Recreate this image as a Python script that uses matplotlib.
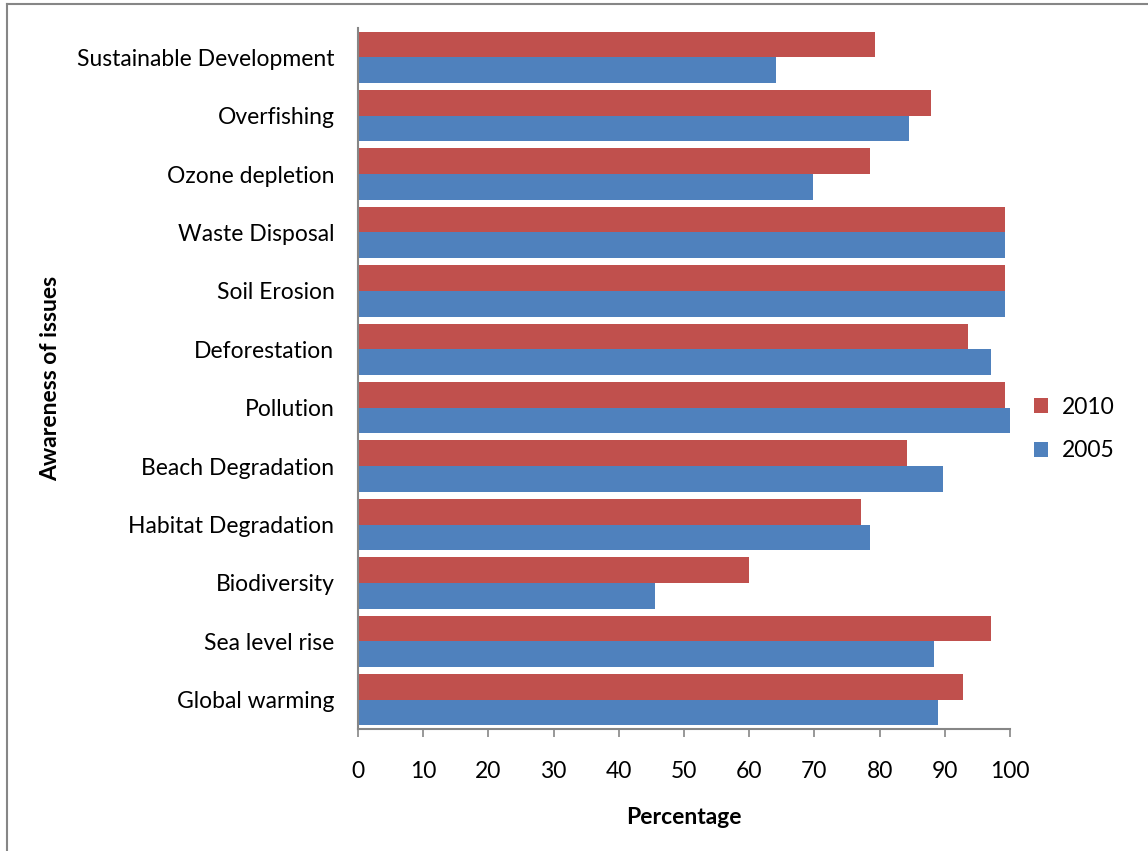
import numpy as np
import matplotlib
matplotlib.use('Agg')
import matplotlib.pyplot as plt
from matplotlib.lines import Line2D

plt.rcParams['font.family'] = ['Lato', 'DejaVu Sans']

# --- DATA ---
issues = ['Global warming', 'Sea level rise', 'Biodiversity', 'Habitat Degradation',
          'Beach Degradation', 'Pollution', 'Deforestation', 'Soil Erosion',
          'Waste Disposal', 'Ozone depletion', 'Overfishing', 'Sustainable Development']
pct_2010 = [92.8, 97.1, 60.0, 77.1, 84.2, 99.2, 93.6, 99.2, 99.2, 78.5, 87.9, 79.3]
pct_2005 = [89.0, 88.3, 45.6, 78.5, 89.7, 100.0, 97.1, 99.2, 99.2, 69.8, 84.5, 64.1]
x_ticks = [0, 10, 20, 30, 40, 50, 60, 70, 80, 90, 100]

red = '#C0504D'
blue = '#4F81BD'
axis_grey = '#868686'

fig = plt.figure(figsize=(11.48, 8.51), dpi=100)
ax = fig.add_axes([358 / 1148, 1 - 729 / 851, (1010 - 358) / 1148, (729 - 28) / 851])

y = np.arange(len(issues))
h = 0.44
ax.barh(y + h / 2, pct_2010, height=h, color=red, label='2010')
ax.barh(y - h / 2, pct_2005, height=h, color=blue, label='2005')

ax.set_xlim(0, 100)
ax.set_ylim(-0.5, len(issues) - 0.5)
ax.set_xticks(x_ticks)
ax.set_yticks(y)
ax.set_yticklabels(issues, fontsize=16.5)
ax.tick_params(axis='y', length=0, pad=17)
ax.tick_params(axis='x', length=6, width=1.2, color=axis_grey, labelsize=16.5, pad=17)

for side in ['top', 'right']:
    ax.spines[side].set_visible(False)
for side in ['left', 'bottom']:
    ax.spines[side].set_color(axis_grey)
    ax.spines[side].set_linewidth(1.5)

ax.set_xlabel('Percentage', fontsize=16.5, fontweight='bold', labelpad=18)
ax.set_ylabel('Awareness of issues', fontsize=16.5, fontweight='bold', labelpad=0)
ax.yaxis.set_label_coords(-0.455, 0.5)

ax.legend(loc='center left', bbox_to_anchor=(1.005, 0.428), frameon=False,
          fontsize=16.5, handlelength=0.6, handleheight=0.6, labelspacing=1.0,
          handletextpad=0.6)

# chart border (left and top edges visible)
fig.add_artist(Line2D([7 / 1148, 7 / 1148], [0, 1 - 4 / 851],
                      transform=fig.transFigure, color=axis_grey, lw=1.5))
fig.add_artist(Line2D([7 / 1148, 1], [1 - 4 / 851, 1 - 4 / 851],
                      transform=fig.transFigure, color=axis_grey, lw=1.5))

fig.savefig('out.png', dpi=100)
